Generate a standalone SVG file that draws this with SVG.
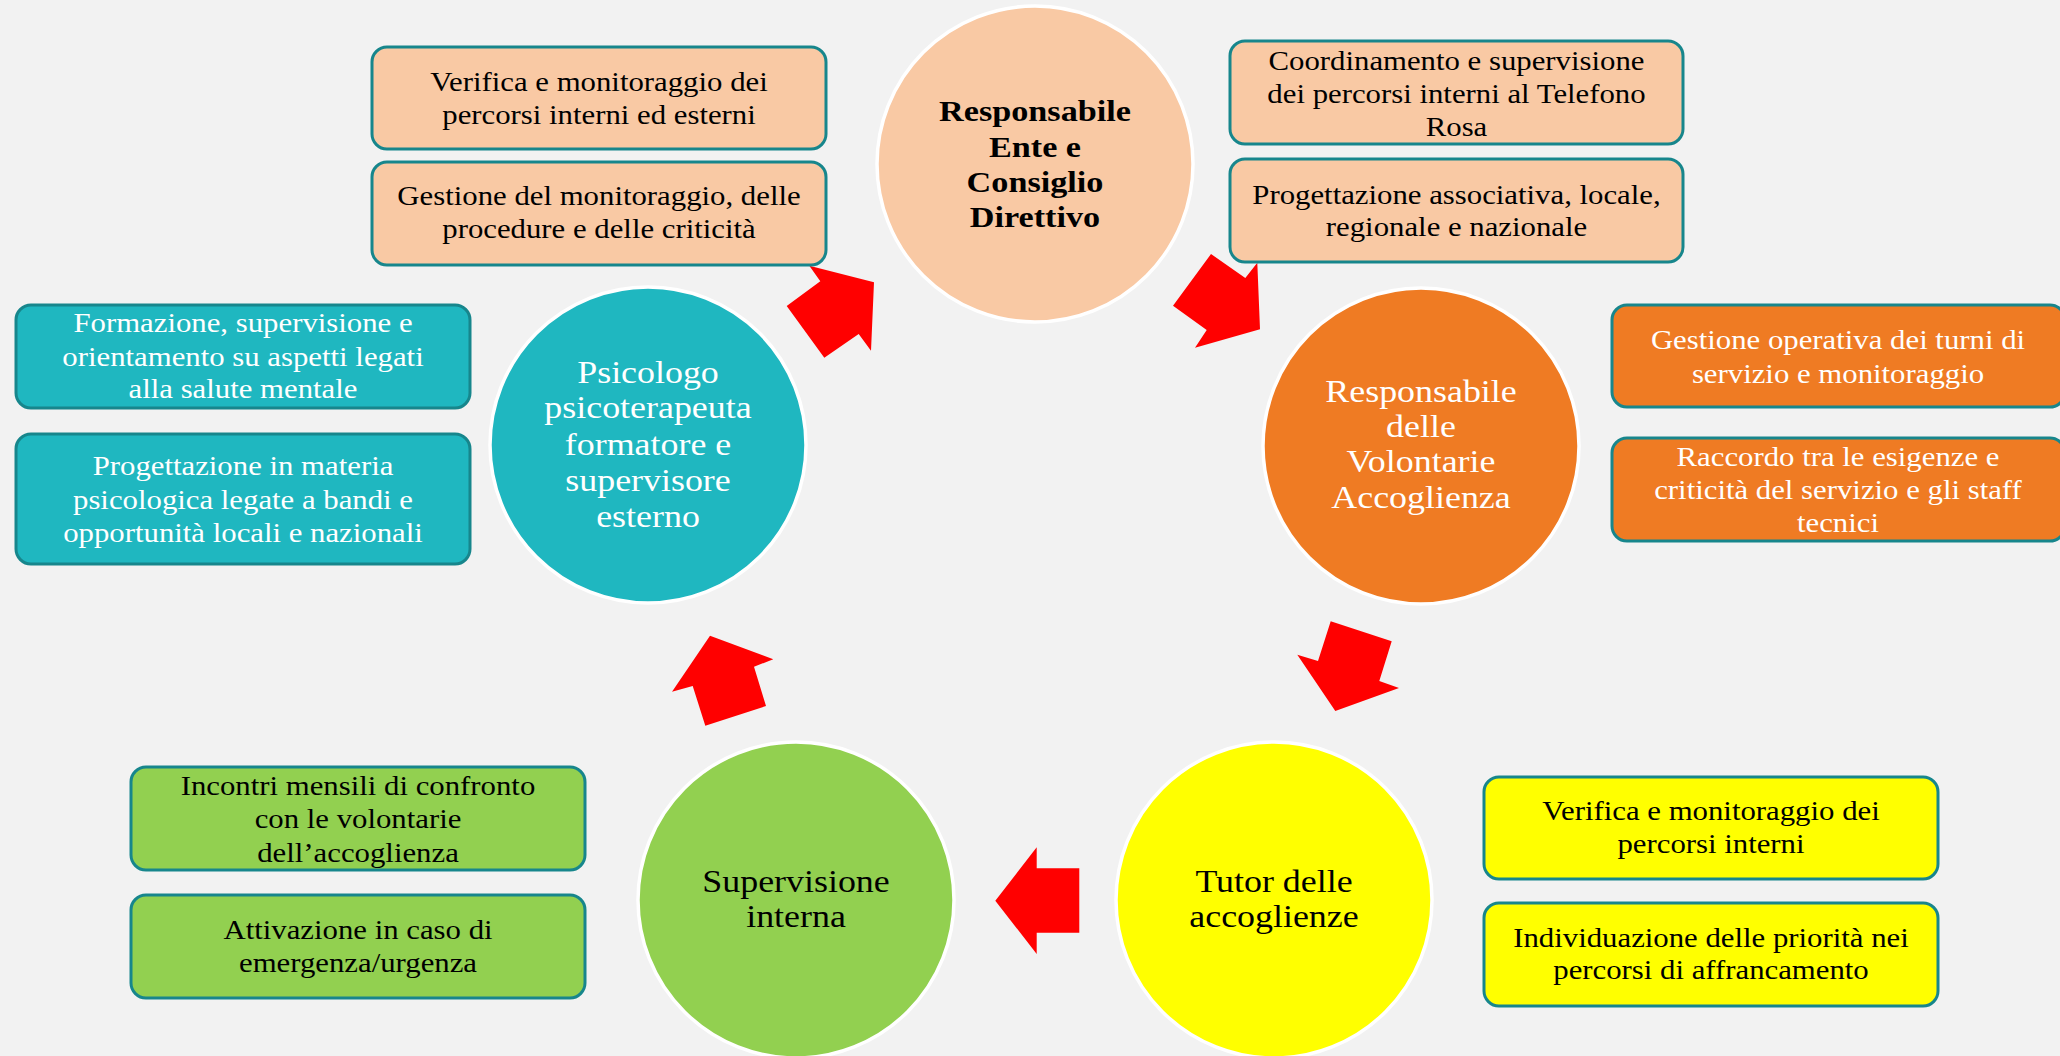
<svg xmlns="http://www.w3.org/2000/svg" width="2060" height="1056" viewBox="0 0 2060 1056">
<style>
.bg{fill:#f2f2f2}
.box{stroke:#17868c;stroke-width:3}
.circ{stroke:#ffffff;stroke-width:3.5}
.peach{fill:#f9c9a4}
.orange{fill:#ef7b23}
.teal{fill:#1fb7c0}
.green{fill:#92d050}
.yellow{fill:#ffff00}
.arrow{fill:#ff0000}
.t{font-family:"Liberation Serif","Times New Roman",serif;font-size:27px;text-anchor:middle;fill:#000}
.c{font-family:"Liberation Serif","Times New Roman",serif;font-size:31.5px;text-anchor:middle;fill:#000}
.b{font-family:"Liberation Serif","Times New Roman",serif;font-size:30px;font-weight:bold;text-anchor:middle;fill:#000}
.w{fill:#ffffff}
</style>
<rect class="bg" x="0" y="0" width="2060" height="1056"/>
<g id="connectors">
<polygon class="arrow" points="809.3,265.7 874,282.3 871,350.7 858.7,334 824.3,357.7 786.7,306 820.3,281.3"/>
<polygon class="arrow" points="1211,254 1245.3,278 1257.3,262.7 1260,329.3 1195,347.7 1206.7,330 1173,305.7"/>
<polygon class="arrow" points="1330.7,621.3 1391.7,641.3 1379.3,681 1399,688 1335.3,711 1297.3,654.7 1318,661"/>
<polygon class="arrow" points="1036.7,847.3 1036.7,868.3 1079.3,868.3 1079.3,932.7 1036.7,932.7 1036.7,954 995.3,900.7"/>
<polygon class="arrow" points="710,635.7 773.3,659.3 754,666.7 766,706 705.3,725.7 692.7,686 672,691.7"/>
</g>
<g id="node-ente">
<circle class="circ peach" cx="1035" cy="164" r="158"/>
<text class="b" transform="translate(1035 0) scale(1.14 1)"><tspan x="0" y="121">Responsabile</tspan><tspan x="0" y="157">Ente e</tspan><tspan x="0" y="192">Consiglio</tspan><tspan x="0" y="227">Direttivo</tspan></text>
</g>
<g id="box-ente-1">
<rect class="box peach" x="372" y="47" width="454" height="102" rx="15"/>
<text class="t" transform="translate(599 0) scale(1.14 1)"><tspan x="0" y="91">Verifica e monitoraggio dei</tspan><tspan x="0" y="124">percorsi interni ed esterni</tspan></text>
</g>
<g id="box-ente-2">
<rect class="box peach" x="372" y="162" width="454" height="103" rx="15"/>
<text class="t" transform="translate(599 0) scale(1.14 1)"><tspan x="0" y="205">Gestione del monitoraggio, delle</tspan><tspan x="0" y="238">procedure e delle criticità</tspan></text>
</g>
<g id="box-ente-3">
<rect class="box peach" x="1230" y="41" width="453" height="103" rx="15"/>
<text class="t" transform="translate(1456.5 0) scale(1.14 1)"><tspan x="0" y="70">Coordinamento e supervisione</tspan><tspan x="0" y="103">dei percorsi interni al Telefono</tspan><tspan x="0" y="136">Rosa</tspan></text>
</g>
<g id="box-ente-4">
<rect class="box peach" x="1230" y="159" width="453" height="103" rx="15"/>
<text class="t" transform="translate(1456.5 0) scale(1.14 1)"><tspan x="0" y="204">Progettazione associativa, locale,</tspan><tspan x="0" y="236">regionale e nazionale</tspan></text>
</g>
<g id="node-volontarie">
<circle class="circ orange" cx="1421" cy="446" r="158"/>
<text class="c w" transform="translate(1421 0) scale(1.14 1)"><tspan x="0" y="402">Responsabile</tspan><tspan x="0" y="437">delle</tspan><tspan x="0" y="472">Volontarie</tspan><tspan x="0" y="508">Accoglienza</tspan></text>
</g>
<g id="box-volontarie-1">
<rect class="box orange" x="1612" y="305" width="453" height="102" rx="15"/>
<text class="t w" transform="translate(1838 0) scale(1.14 1)"><tspan x="0" y="349">Gestione operativa dei turni di</tspan><tspan x="0" y="383">servizio e monitoraggio</tspan></text>
</g>
<g id="box-volontarie-2">
<rect class="box orange" x="1612" y="438" width="453" height="103" rx="15"/>
<text class="t w" transform="translate(1838 0) scale(1.14 1)"><tspan x="0" y="466">Raccordo tra le esigenze e</tspan><tspan x="0" y="499">criticità del servizio e gli staff</tspan><tspan x="0" y="532">tecnici</tspan></text>
</g>
<g id="node-tutor">
<circle class="circ yellow" cx="1274" cy="900" r="158"/>
<text class="c" transform="translate(1274 0) scale(1.14 1)"><tspan x="0" y="892">Tutor delle</tspan><tspan x="0" y="927">accoglienze</tspan></text>
</g>
<g id="box-tutor-1">
<rect class="box yellow" x="1484" y="777" width="454" height="102" rx="15"/>
<text class="t" transform="translate(1711 0) scale(1.14 1)"><tspan x="0" y="820">Verifica e monitoraggio dei</tspan><tspan x="0" y="853">percorsi interni</tspan></text>
</g>
<g id="box-tutor-2">
<rect class="box yellow" x="1484" y="903" width="454" height="103" rx="15"/>
<text class="t" transform="translate(1711 0) scale(1.14 1)"><tspan x="0" y="947">Individuazione delle priorità nei</tspan><tspan x="0" y="979">percorsi di affrancamento</tspan></text>
</g>
<g id="node-supervisione">
<circle class="circ green" cx="796" cy="900" r="158"/>
<text class="c" transform="translate(796 0) scale(1.14 1)"><tspan x="0" y="892">Supervisione</tspan><tspan x="0" y="927">interna</tspan></text>
</g>
<g id="box-supervisione-1">
<rect class="box green" x="131" y="767" width="454" height="103" rx="15"/>
<text class="t" transform="translate(358 0) scale(1.14 1)"><tspan x="0" y="795">Incontri mensili di confronto</tspan><tspan x="0" y="828">con le volontarie</tspan><tspan x="0" y="862">dell’accoglienza</tspan></text>
</g>
<g id="box-supervisione-2">
<rect class="box green" x="131" y="895" width="454" height="103" rx="15"/>
<text class="t" transform="translate(358 0) scale(1.14 1)"><tspan x="0" y="939">Attivazione in caso di</tspan><tspan x="0" y="972">emergenza/urgenza</tspan></text>
</g>
<g id="node-psicologo">
<circle class="circ teal" cx="648" cy="445" r="158"/>
<text class="c w" transform="translate(648 0) scale(1.14 1)"><tspan x="0" y="383">Psicologo</tspan><tspan x="0" y="418">psicoterapeuta</tspan><tspan x="0" y="455">formatore e</tspan><tspan x="0" y="491">supervisore</tspan><tspan x="0" y="527">esterno</tspan></text>
</g>
<g id="box-psicologo-1">
<rect class="box teal" x="16" y="305" width="454" height="103" rx="15"/>
<text class="t w" transform="translate(243 0) scale(1.14 1)"><tspan x="0" y="332">Formazione, supervisione e</tspan><tspan x="0" y="366">orientamento su aspetti legati</tspan><tspan x="0" y="398">alla salute mentale</tspan></text>
</g>
<g id="box-psicologo-2">
<rect class="box teal" x="16" y="434" width="454" height="130" rx="15"/>
<text class="t w" transform="translate(243 0) scale(1.14 1)"><tspan x="0" y="475">Progettazione in materia</tspan><tspan x="0" y="509">psicologica legate a bandi e</tspan><tspan x="0" y="542">opportunità locali e nazionali</tspan></text>
</g>
</svg>
